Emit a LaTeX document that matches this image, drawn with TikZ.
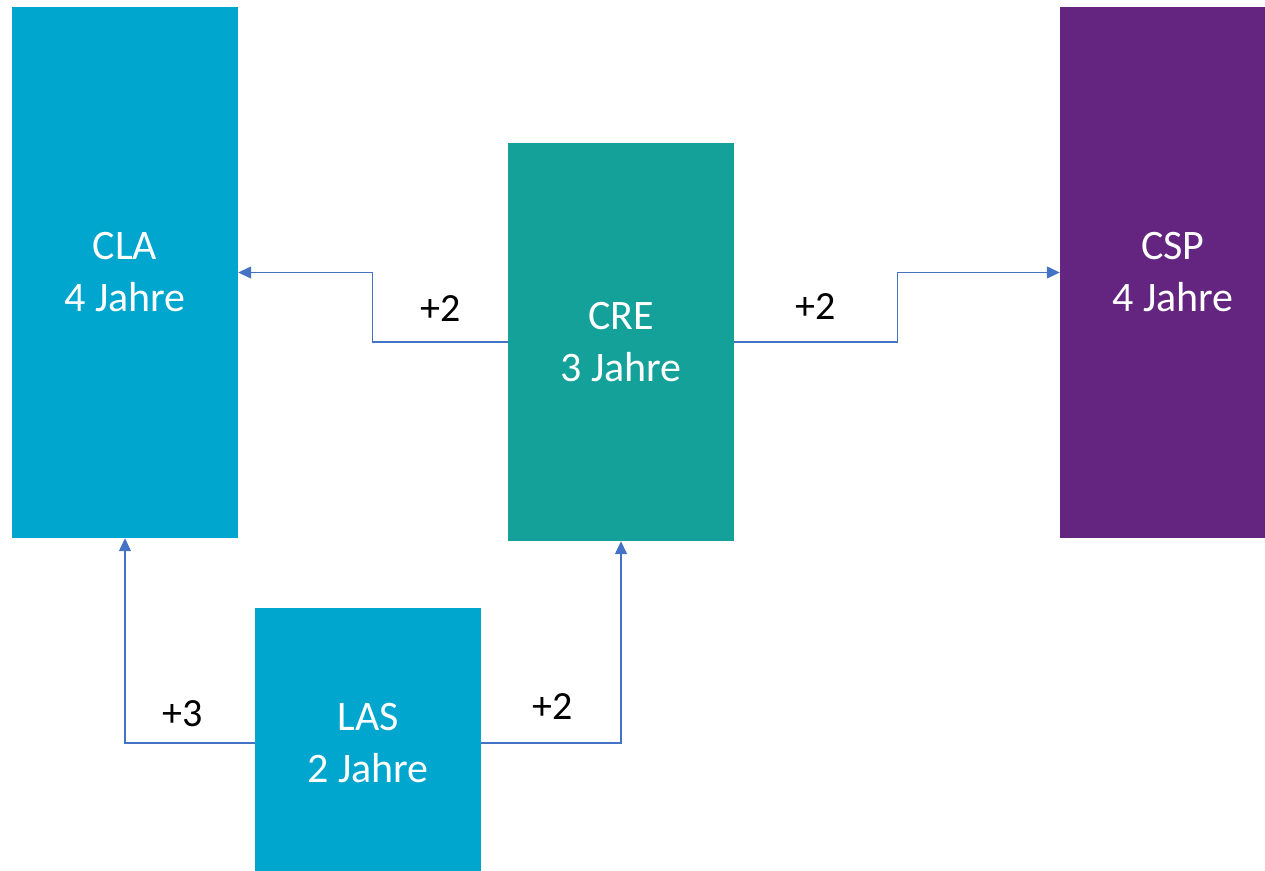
\documentclass[tikz,border=0pt]{standalone}
\usepackage{fontspec}
\setmainfont{Carlito}
\usetikzlibrary{arrows.meta}
\definecolor{cblue}{HTML}{00A6CE}
\definecolor{cteal}{HTML}{13A19A}
\definecolor{cpurple}{HTML}{63257F}
\definecolor{carrow}{HTML}{4472C4}
\begin{document}
\begin{tikzpicture}[x=1pt,y=-1pt,
  box/.style={rectangle, draw=none, minimum width=226pt, text=white, align=center, inner sep=0pt,
    font=\fontsize{42}{52}\selectfont},
  conn/.style={draw=carrow, line width=1.3pt, -{Triangle[length=13pt,width=12pt]}},
  lbl/.style={font=\fontsize{40}{46}\selectfont, text=black}]
\useasboundingbox (0,0) rectangle (1265,870);
\begin{scope}
\clip (0,0) rectangle (1265,870);
\node[box, fill=cblue, minimum height=531pt] (CLA) at (125,272.5) {CLA\\4 Jahre};
\node[box, fill=cteal, minimum height=398pt] (CRE) at (621,342) {CRE\\3 Jahre};
\node[box, fill=cpurple, minimum height=531pt] (CSP) at (1173,272.5) {CSP\\4 Jahre};
\node[box, fill=cblue, minimum height=270pt] (LAS) at (368,743) {LAS\\2 Jahre};
\end{scope}
\draw[conn] (CRE.west) -- ++(-135,0) |- (CLA.east);
\draw[conn] (CRE.east) -- ++(163,0) |- (CSP.west);
\draw[conn] (LAS.west) -| (CLA.south);
\draw[conn] (LAS.east) -| (CRE.south);
\node[lbl] (l1) at (441,309) {+2};
\node[lbl] (l2) at (816,307) {+2};
\node[lbl] (l3) at (183,714) {+3};
\node[lbl] (l4) at (553,707) {+2};
\end{tikzpicture}
\end{document}
